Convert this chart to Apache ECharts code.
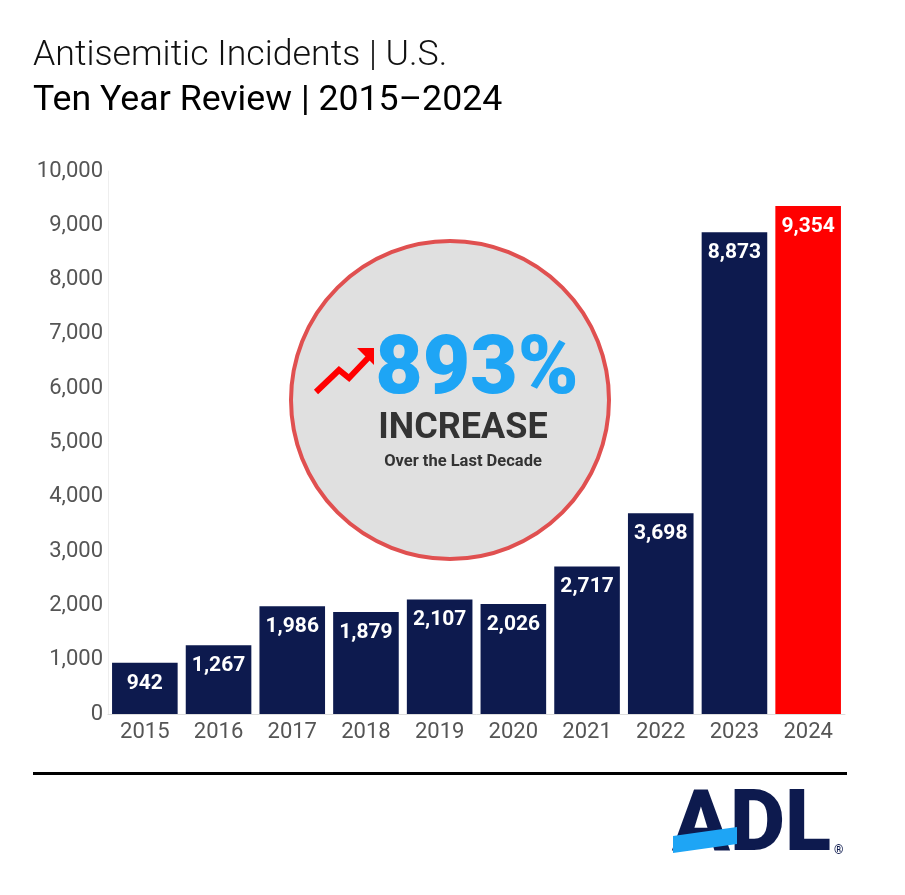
<!DOCTYPE html><html><head><meta charset="utf-8"><script src="https://cdn.jsdelivr.net/npm/echarts@6/dist/echarts.min.js"></script>
<style>body{margin:0;background:#fff}#c{width:905px;height:895px}</style></head><body><div id="c"></div><script>
const years=['2015','2016','2017','2018','2019','2020','2021','2022','2023','2024'];
const incidents=[942,1267,1986,1879,2107,2026,2717,3698,8873,9354];
const yTicks=[0,1000,2000,3000,4000,5000,6000,7000,8000,9000,10000];
const chart=echarts.init(document.getElementById('c'));
chart.setOption({
animation:false,
grid:{left:108,right:60,top:171,bottom:181},
xAxis:{type:'category',data:years,axisTick:{show:false},axisLine:{lineStyle:{color:'#ddd'}},
 axisLabel:{color:'#555',fontSize:22,fontFamily:'Roboto',margin:7}},
yAxis:{type:'value',min:yTicks[0],max:yTicks[yTicks.length-1],interval:1000,splitLine:{show:false},
 axisLine:{show:true,lineStyle:{color:'#eee'}},
 axisLabel:{color:'#555',fontSize:22,fontFamily:'Roboto',margin:5,formatter:v=>v.toLocaleString('en-US')}},
series:[{type:'bar',barCategoryGap:'11%',
 data:incidents.map((v,i)=>({value:v,itemStyle:{color:i===9?'#ff0000':'#0d1a4e'}})),
 label:{show:true,position:'insideTop',distance:10,color:'#fff',fontSize:21,fontWeight:'bold',fontFamily:'Roboto',
  formatter:p=>p.value.toLocaleString('en-US')}}],
graphic:[
 {type:'text',left:33,top:38,style:{text:'Antisemitic Incidents | U.S.',fontSize:35.7,fontWeight:300,fontFamily:'Roboto',fill:'#111'}},
 {type:'text',left:33,top:83,style:{text:'Ten Year Review | 2015–2024',fontSize:35.7,fontFamily:'Roboto',fill:'#000'}},
 {type:'circle',shape:{cx:450,cy:400,r:159},style:{fill:'#e0e0e0',stroke:'#e05050',lineWidth:4},z:10},
 {type:'polyline',shape:{points:[[316,392],[339,370],[349,378],[368,358]]},style:{stroke:'#ff0000',lineWidth:6,fill:null},z:11},
 {type:'polygon',shape:{points:[[357,348],[374,348],[374,365]]},style:{fill:'#ff0000'},z:11},
 {type:'text',x:477,y:372,style:{text:'893%',fontSize:82,fontWeight:900,fontFamily:'Roboto',fill:'#1ea5f5',align:'center',verticalAlign:'middle'},z:11},
 {type:'text',x:463,y:429,style:{text:'INCREASE',fontSize:36,fontWeight:'bold',fontFamily:'Roboto',fill:'#333',align:'center',verticalAlign:'middle'},z:11},
 {type:'text',x:463,y:462,style:{text:'Over the Last Decade',fontSize:16.5,fontWeight:'bold',fontFamily:'Roboto',fill:'#333',align:'center',verticalAlign:'middle'},z:11},
 {type:'rect',shape:{x:33,y:772,width:814,height:3},style:{fill:'#000'}},
 {type:'text',left:672,top:786,style:{text:'ADL',fontSize:85,fontWeight:900,fontFamily:'Roboto',fill:'#0d1a4e'},z:11},
 {type:'polygon',shape:{points:[[673,836],[737,827],[737,844],[673,853]]},style:{fill:'#1ea5f5'},z:12},
 {type:'text',left:834,top:845,style:{text:'®',fontSize:12,fontWeight:'bold',fontFamily:'Roboto',fill:'#0d1a4e'}}
]});
</script></body></html>
